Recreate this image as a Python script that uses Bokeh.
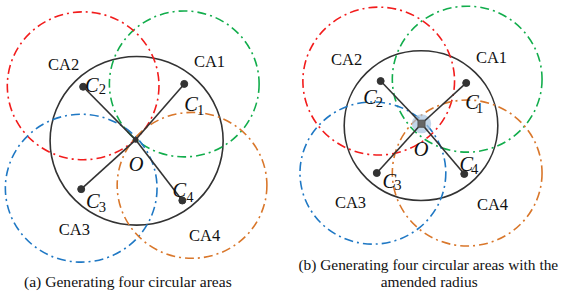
from bokeh.plotting import figure
from bokeh.models import Range1d
from bokeh.core.properties import value
from bokeh.embed import file_html
from bokeh.resources import INLINE

# ---------------- data (diagram coordinates in reference units, y grows downward) ----------------
area_names = ["CA1", "CA2", "CA3", "CA4"]
area_colors = ["#12ad4c", "#f21c1c", "#1f78c4", "#d9772b"]
sub_digits = ["1", "2", "3", "4"]

# panel (a)
a_O = (139, 147)
a_Cx = [189, 85, 83, 187]
a_Cy = [88, 91, 199, 211]
a_area_cx = [189, 85, 83, 197]
a_area_cy = [88, 90, 198, 195]
a_area_r = [77, 78, 78, 77]
a_big = (140, 148, 89)
a_lab_x = [215, 65, 76, 210]
a_lab_y = [64, 67, 242, 248]
a_C_lab_x = [189, 87, 88, 177]
a_C_lab_y = [109, 89, 212, 200]
a_sub_x = [202, 101, 101, 191]
a_sub_y = [115, 93, 218, 207]
a_O_lab = (132, 172)
a_caption = "(a) Generating four circular areas"
a_cap_pos = (131, 296)

# panel (b)
b_O = (433, 130)
b_Cx = [479, 391, 387, 477]
b_Cy = [87, 85, 182, 183]
b_area_cx = [480, 389, 383, 480]
b_area_cy = [83, 85, 182, 182]
b_area_r = [77, 78, 75, 77]
b_big = (432.5, 132, 79)
b_lab_x = [505, 356, 360, 506]
b_lab_y = [60, 62, 213, 215]
b_C_lab_x = [478, 373, 393, 472]
b_C_lab_y = [107, 102, 190, 172]
b_sub_x = [489, 386, 405, 484]
b_sub_y = [113, 107, 195, 178]
b_O_lab = (425, 157)
b_caption = ["(b) Generating four circular areas with the", "amended radius"]
b_cap_pos = [(440, 278), (441, 296)]

FONT = value("Liberation Serif")
DARK = "#333333"
INK = "#111111"
W, H = 561, 291
REF_W, REF_H = 577, 307
S = W / REF_W  # text scale


def fs(px):
    return value(f"{px * S:.1f}px")


p = figure(width=W, height=H, output_backend="svg", toolbar_location=None,
           x_range=Range1d(0, REF_W), y_range=Range1d(REF_H, 0),
           x_axis_type=None, y_axis_type=None, min_border=0)
p.grid.visible = False
p.outline_line_color = None
p.background_fill_color = "white"
p.border_fill_color = "white"


def panel(O, Cx, Cy, acx, acy, ar, big, labx, laby, clx, cly, sx, sy, olab, glow):
    p.ellipse(x=[big[0]], y=[big[1]], width=2 * big[2], height=2 * big[2],
              fill_color=None, line_color=DARK, line_width=1.6)
    for i in range(4):
        p.ellipse(x=[acx[i]], y=[acy[i]], width=2 * ar[i], height=2 * ar[i],
                  fill_color=None, line_color=area_colors[i], line_width=1.6,
                  line_dash="9 4 2 4")
    if glow:
        p.ellipse(x=[O[0]], y=[O[1]], width=20, height=20, fill_color="#aac4e0",
                  fill_alpha=0.7, line_color=None)
    p.segment(x0=[O[0]] * 4, y0=[O[1]] * 4, x1=Cx, y1=Cy, line_color=DARK, line_width=1.6)
    p.scatter(x=Cx, y=Cy, size=7, marker="circle", fill_color=DARK, line_color=DARK)
    if glow:
        p.scatter(x=[O[0]], y=[O[1]], size=7, marker="square", fill_color="#666666",
                  line_color="#555555")
    else:
        p.scatter(x=[O[0]], y=[O[1]], size=5, marker="circle", fill_color=DARK, line_color=DARK)
    p.text(x=labx, y=laby, text=area_names, text_font=FONT, text_font_size=fs(17),
           text_align="center", text_baseline="alphabetic", text_color=INK)
    p.text(x=clx, y=cly, text=["C"] * 4, text_font=FONT, text_font_size=fs(21),
           text_font_style="italic", text_align="left", text_baseline="alphabetic",
           text_color=INK)
    p.text(x=sx, y=sy, text=sub_digits, text_font=FONT, text_font_size=fs(15),
           text_align="left", text_baseline="alphabetic", text_color=INK)
    p.text(x=[olab[0]], y=[olab[1]], text=["O"], text_font=FONT, text_font_size=fs(21),
           text_font_style="italic", text_align="left", text_baseline="alphabetic",
           text_color=INK)


panel(a_O, a_Cx, a_Cy, a_area_cx, a_area_cy, a_area_r, a_big, a_lab_x, a_lab_y,
      a_C_lab_x, a_C_lab_y, a_sub_x, a_sub_y, a_O_lab, False)
panel(b_O, b_Cx, b_Cy, b_area_cx, b_area_cy, b_area_r, b_big, b_lab_x, b_lab_y,
      b_C_lab_x, b_C_lab_y, b_sub_x, b_sub_y, b_O_lab, True)

p.text(x=[a_cap_pos[0]], y=[a_cap_pos[1]], text=[a_caption], text_font=FONT,
       text_font_size=fs(16), text_align="center", text_baseline="alphabetic",
       text_color=INK)
p.text(x=[q[0] for q in b_cap_pos], y=[q[1] for q in b_cap_pos], text=b_caption,
       text_font=FONT, text_font_size=fs(15.8), text_align="center",
       text_baseline="alphabetic", text_color=INK)

open("out.html", "w").write(file_html(p, INLINE))
